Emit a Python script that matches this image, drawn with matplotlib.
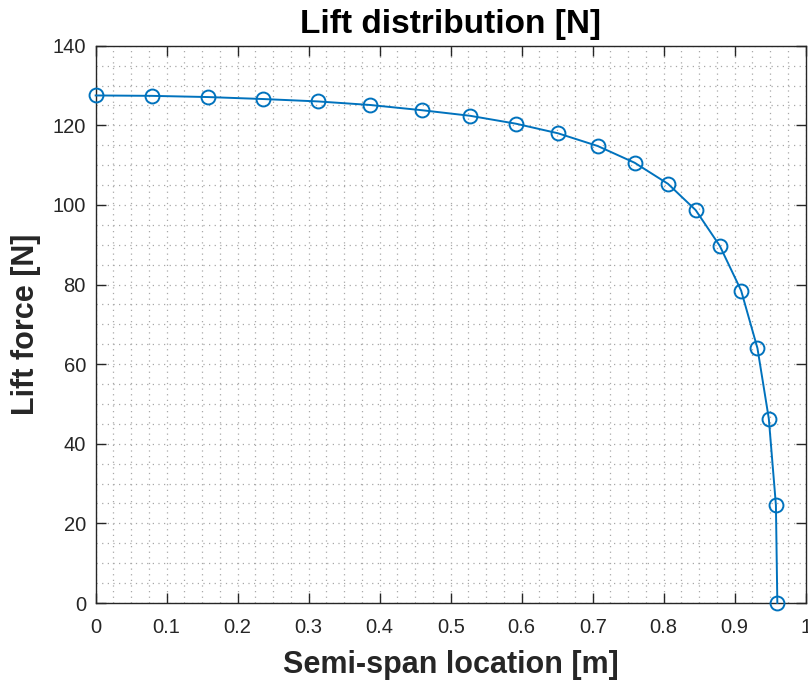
import matplotlib
matplotlib.use("Agg")
import matplotlib.pyplot as plt
from matplotlib.ticker import MultipleLocator

# Data
span_m = [0.0, 0.079, 0.158, 0.236, 0.313, 0.387, 0.459, 0.527, 0.592, 0.651,
          0.707, 0.759, 0.806, 0.845, 0.879, 0.909, 0.932, 0.948, 0.958, 0.960]
lift_N = [127.5, 127.4, 127.1, 126.6, 126.0, 125.1, 123.8, 122.4, 120.4, 118.0,
          114.8, 110.6, 105.3, 98.7, 89.7, 78.5, 64.0, 46.3, 24.6, 0.0]

title = "Lift distribution [N]"
xlabel = "Semi-span location [m]"
ylabel = "Lift force [N]"
xticks = [0, 0.1, 0.2, 0.3, 0.4, 0.5, 0.6, 0.7, 0.8, 0.9, 1]
xticklabels = ["0", "0.1", "0.2", "0.3", "0.4", "0.5", "0.6", "0.7", "0.8", "0.9", "1"]
yticks = [0, 20, 40, 60, 80, 100, 120, 140]

plt.rcParams['font.family'] = ['Liberation Sans', 'DejaVu Sans']

fig = plt.figure(figsize=(8.08, 6.84), dpi=100)
ax = fig.add_axes([0.1184, 0.1184, 0.9972 - 0.1184, 0.9332 - 0.1184])

ax.plot(span_m, lift_N, color='#0072BD', lw=1.4, marker='o', markersize=10,
        markerfacecolor='none', markeredgewidth=1.4, clip_on=False, zorder=5)

ax.set_xlim(0, 1)
ax.set_ylim(0, 140)
ax.set_xticks(xticks)
ax.set_xticklabels(xticklabels)
ax.set_yticks(yticks)
ax.xaxis.set_minor_locator(MultipleLocator(0.025))
ax.yaxis.set_minor_locator(MultipleLocator(5))

gridkw = dict(color='#a8a8a8', linestyle=(0, (1, 3.5)), linewidth=0.9)
ax.grid(True, which='major', **gridkw)
ax.grid(True, which='minor', **gridkw)
ax.set_axisbelow(True)

ax.tick_params(which='major', direction='in', length=7, width=1.0, top=True, right=True,
               labelsize=14.5, colors='#262626')
ax.tick_params(axis='x', which='major', pad=11)
ax.tick_params(axis='y', which='major', pad=7)
ax.tick_params(which='minor', length=0, top=True, right=True)
for s in ax.spines.values():
    s.set_color('#262626')
    s.set_linewidth(1.0)

ax.set_title(title, fontsize=24, fontweight='bold', color='black', pad=9)
ax.set_xlabel(xlabel, fontsize=22, fontweight='bold', color='#262626', labelpad=9)
ax.set_ylabel(ylabel, fontsize=22, fontweight='bold', color='#262626', labelpad=8)

fig.savefig("out.png", dpi=100)
